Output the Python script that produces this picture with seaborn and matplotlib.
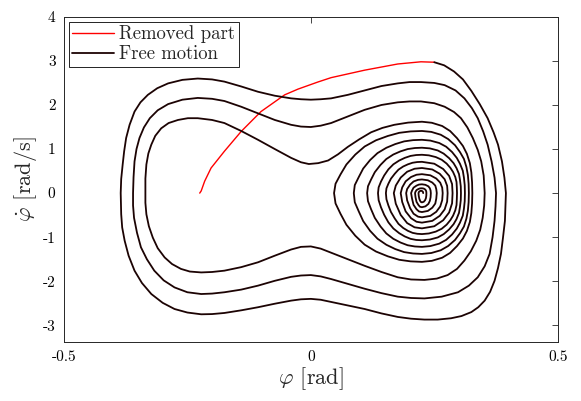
import matplotlib
matplotlib.use("Agg")
import matplotlib.pyplot as plt
import pandas as pd
import seaborn as sns

# ---------------- data ----------------
x_ticks = [-0.5, 0, 0.5]
x_tick_labels = ["-0.5", "0", "0.5"]
y_ticks = [-3, -2, -1, 0, 1, 2, 3, 4]
y_tick_labels = ["-3", "-2", "-1", "0", "1", "2", "3", "4"]
series_labels = ["Removed part", "Free motion"]

# removed part (red)
removed_pts = [
    (-0.225, 0.00), (-0.222, 0.05), (-0.215, 0.27), (-0.202, 0.57), (-0.175, 0.95),
    (-0.141, 1.40), (-0.101, 1.85), (-0.053, 2.23), (-0.026, 2.36), (0.014, 2.52),
    (0.041, 2.62), (0.109, 2.79), (0.176, 2.93), (0.223, 2.98), (0.250, 2.97),
]

# free motion: outer loops around both wells
outer_pts = [
    # loop 1
    (0.250, 2.97), (0.270, 2.90), (0.290, 2.76), (0.308, 2.58), (0.325, 2.32),
    (0.342, 2.02), (0.358, 1.70), (0.370, 1.38), (0.379, 1.10), (0.387, 0.72),
    (0.392, 0.35), (0.395, 0.00), (0.394, -0.35), (0.393, -0.63), (0.389, -1.02),
    (0.385, -1.38), (0.379, -1.70), (0.372, -1.99), (0.363, -2.24), (0.352, -2.44),
    (0.339, -2.59), (0.325, -2.70), (0.305, -2.79), (0.284, -2.84), (0.257, -2.87),
    (0.230, -2.87), (0.203, -2.85), (0.176, -2.81), (0.143, -2.73), (0.109, -2.63),
    (0.075, -2.55), (0.041, -2.47), (0.020, -2.42), (0.000, -2.40), (-0.020, -2.41),
    (-0.040, -2.44), (-0.073, -2.51), (-0.107, -2.59), (-0.141, -2.66), (-0.175, -2.72),
    (-0.200, -2.745), (-0.222, -2.75), (-0.250, -2.71), (-0.276, -2.63), (-0.300, -2.49),
    (-0.323, -2.29), (-0.342, -2.04), (-0.357, -1.76), (-0.369, -1.42), (-0.377, -1.08),
    (-0.382, -0.78), (-0.384, -0.48), (-0.385, 0.00), (-0.384, 0.32), (-0.381, 0.65),
    (-0.378, 0.95), (-0.374, 1.25), (-0.367, 1.55), (-0.357, 1.85), (-0.345, 2.06),
    (-0.330, 2.23), (-0.311, 2.38), (-0.289, 2.49), (-0.260, 2.57), (-0.229, 2.60),
    (-0.200, 2.58), (-0.175, 2.53), (-0.141, 2.42), (-0.107, 2.30), (-0.073, 2.21),
    (-0.040, 2.15), (-0.020, 2.13), (0.000, 2.12), (0.020, 2.13), (0.041, 2.15),
    (0.075, 2.23), (0.109, 2.33), (0.143, 2.43), (0.176, 2.49), (0.200, 2.52),
    (0.223, 2.52), (0.250, 2.50), (0.271, 2.45), (0.293, 2.33), (0.311, 2.15),
    (0.326, 1.93), (0.338, 1.70), (0.349, 1.40), (0.358, 1.10), (0.366, 0.72),
    (0.372, 0.35), (0.375, 0.00),
    # loop 2
    (0.374, -0.30), (0.372, -0.63), (0.368, -1.00), (0.362, -1.38), (0.352, -1.66),
    (0.338, -1.91), (0.320, -2.10), (0.298, -2.25), (0.265, -2.35), (0.230, -2.39),
    (0.203, -2.38), (0.176, -2.35), (0.143, -2.27), (0.109, -2.17), (0.075, -2.06),
    (0.041, -1.95), (0.020, -1.89), (0.000, -1.86), (-0.020, -1.87), (-0.040, -1.90),
    (-0.073, -1.99), (-0.107, -2.10), (-0.141, -2.19), (-0.175, -2.25), (-0.200, -2.28),
    (-0.222, -2.29), (-0.250, -2.25), (-0.276, -2.14), (-0.298, -1.98), (-0.317, -1.76),
    (-0.332, -1.50), (-0.344, -1.23), (-0.352, -0.90), (-0.358, -0.56), (-0.360, -0.28),
    (-0.360, 0.00), (-0.359, 0.36), (-0.357, 0.72), (-0.353, 1.00), (-0.347, 1.25),
    (-0.338, 1.49), (-0.326, 1.70), (-0.310, 1.88), (-0.289, 2.02), (-0.260, 2.12),
    (-0.229, 2.16), (-0.200, 2.14), (-0.175, 2.09), (-0.141, 1.96), (-0.107, 1.81),
    (-0.073, 1.66), (-0.040, 1.55), (-0.020, 1.51), (0.000, 1.50), (0.020, 1.53),
    (0.041, 1.59), (0.075, 1.74), (0.109, 1.89), (0.143, 2.00), (0.176, 2.06),
    (0.200, 2.08), (0.223, 2.08), (0.250, 2.04), (0.271, 1.96), (0.290, 1.84),
    (0.304, 1.70), (0.317, 1.49), (0.328, 1.25), (0.338, 0.98), (0.345, 0.72),
    (0.350, 0.40), (0.352, 0.00),
    # loop 3
    (0.351, -0.28), (0.348, -0.56), (0.343, -0.83), (0.335, -1.08), (0.324, -1.32),
    (0.311, -1.53), (0.296, -1.72), (0.277, -1.86), (0.255, -1.94), (0.230, -1.97),
    (0.203, -1.96), (0.176, -1.91), (0.143, -1.79), (0.109, -1.65), (0.075, -1.50),
    (0.041, -1.35), (0.020, -1.26), (0.000, -1.21), (-0.020, -1.22), (-0.040, -1.28),
    (-0.073, -1.42), (-0.107, -1.57), (-0.141, -1.68), (-0.175, -1.76), (-0.200, -1.79),
    (-0.222, -1.80), (-0.245, -1.78), (-0.263, -1.72), (-0.281, -1.61), (-0.296, -1.46),
    (-0.310, -1.25), (-0.320, -1.01), (-0.328, -0.75), (-0.333, -0.48), (-0.335, -0.22),
    (-0.335, 0.00), (-0.335, 0.33), (-0.333, 0.65), (-0.329, 0.90), (-0.323, 1.10),
    (-0.315, 1.30), (-0.303, 1.47), (-0.288, 1.59), (-0.269, 1.66), (-0.249, 1.70),
    (-0.229, 1.70), (-0.200, 1.66), (-0.175, 1.59), (-0.141, 1.41), (-0.107, 1.21),
    (-0.073, 1.00), (-0.040, 0.80), (-0.020, 0.70), (-0.004, 0.66), (0.015, 0.68),
    (0.035, 0.74), (0.055, 0.88), (0.075, 1.05), (0.098, 1.22), (0.122, 1.38),
    (0.145, 1.48), (0.169, 1.55), (0.197, 1.60), (0.225, 1.62),
]

# free motion: spiral into the right well
well_pts = [
    # k0
    (0.245, 1.596), (0.266, 1.523), (0.282, 1.409), (0.296, 1.247), (0.308, 1.069),
    (0.316, 0.891), (0.322, 0.680), (0.325, 0.470), (0.3265, 0.243), (0.327, 0.0),
    (0.3265, -0.234), (0.325, -0.452), (0.322, -0.655), (0.316, -0.858), (0.308, -1.030),
    (0.296, -1.201), (0.282, -1.357), (0.266, -1.466), (0.245, -1.537), (0.225, -1.56),
    (0.202, -1.549), (0.179, -1.513), (0.156, -1.435), (0.132, -1.326), (0.109, -1.170),
    (0.090, -0.967), (0.072, -0.718), (0.060, -0.468), (0.050, -0.234), (0.047, 0.0),
    (0.050, 0.212), (0.060, 0.423), (0.072, 0.649), (0.090, 0.874), (0.109, 1.058),
    (0.132, 1.199), (0.156, 1.297), (0.179, 1.368), (0.202, 1.400), (0.225, 1.41),
    # k1
    (0.244, 1.389), (0.263, 1.325), (0.278, 1.227), (0.292, 1.086), (0.302, 0.931),
    (0.310, 0.776), (0.315, 0.592), (0.318, 0.409), (0.3195, 0.212), (0.320, 0.0),
    (0.3195, -0.207), (0.318, -0.400), (0.315, -0.580), (0.310, -0.759), (0.302, -0.911),
    (0.292, -1.063), (0.278, -1.201), (0.263, -1.297), (0.244, -1.359), (0.225, -1.38),
    (0.207, -1.370), (0.189, -1.339), (0.171, -1.270), (0.153, -1.173), (0.135, -1.035),
    (0.120, -0.856), (0.106, -0.635), (0.097, -0.414), (0.089, -0.207), (0.087, 0.0),
    (0.089, 0.182), (0.097, 0.363), (0.106, 0.557), (0.120, 0.750), (0.135, 0.908),
    (0.153, 1.029), (0.171, 1.113), (0.189, 1.174), (0.207, 1.202), (0.225, 1.21),
    # k2
    (0.242, 1.192), (0.260, 1.137), (0.274, 1.053), (0.286, 0.932), (0.2955, 0.799),
    (0.302, 0.666), (0.3077, 0.508), (0.310, 0.351), (0.3116, 0.182), (0.312, 0.0),
    (0.3116, -0.183), (0.310, -0.354), (0.3077, -0.512), (0.302, -0.671), (0.2955, -0.805),
    (0.286, -0.939), (0.274, -1.061), (0.260, -1.147), (0.242, -1.202), (0.225, -1.22),
    (0.2106, -1.211), (0.196, -1.183), (0.1817, -1.122), (0.167, -1.037), (0.1528, -0.915),
    (0.141, -0.756), (0.1295, -0.561), (0.122, -0.366), (0.1157, -0.183), (0.114, 0.0),
    (0.1157, 0.155), (0.122, 0.309), (0.1295, 0.474), (0.141, 0.639), (0.1528, 0.773),
    (0.167, 0.876), (0.1817, 0.948), (0.196, 0.999), (0.2106, 1.023), (0.225, 1.03),
    # k3
    (0.241, 1.015), (0.257, 0.968), (0.269, 0.896), (0.280, 0.793), (0.289, 0.680),
    (0.295, 0.567), (0.300, 0.433), (0.302, 0.299), (0.3036, 0.155), (0.304, 0.0),
    (0.3036, -0.161), (0.302, -0.310), (0.300, -0.449), (0.295, -0.589), (0.289, -0.706),
    (0.280, -0.824), (0.269, -0.931), (0.257, -1.006), (0.241, -1.054), (0.225, -1.07),
    (0.2134, -1.063), (0.202, -1.038), (0.1903, -0.984), (0.179, -0.910), (0.1671, -0.803),
    (0.157, -0.663), (0.1485, -0.492), (0.142, -0.321), (0.1373, -0.161), (0.136, 0.0),
    (0.1373, 0.131), (0.142, 0.261), (0.1485, 0.400), (0.157, 0.539), (0.1671, 0.653),
    (0.179, 0.740), (0.1903, 0.800), (0.202, 0.844), (0.2134, 0.864), (0.225, 0.87),
    # k4
    (0.239, 0.857), (0.253, 0.818), (0.265, 0.757), (0.275, 0.670), (0.2825, 0.574),
    (0.288, 0.479), (0.2925, 0.365), (0.295, 0.252), (0.2956, 0.131), (0.296, 0.0),
    (0.2956, -0.140), (0.295, -0.270), (0.2925, -0.391), (0.288, -0.512), (0.2825, -0.614),
    (0.275, -0.716), (0.265, -0.809), (0.253, -0.874), (0.239, -0.916), (0.225, -0.93),
    (0.2155, -0.923), (0.206, -0.902), (0.1965, -0.856), (0.187, -0.791), (0.1775, -0.698),
    (0.170, -0.577), (0.1622, -0.428), (0.157, -0.279), (0.1531, -0.140), (0.152, 0.0),
    (0.1531, 0.107), (0.157, 0.213), (0.1622, 0.327), (0.170, 0.440), (0.1775, 0.533),
    (0.187, 0.604), (0.1965, 0.653), (0.206, 0.689), (0.2155, 0.705), (0.225, 0.71),
    # k5
    (0.250, 0.667), (0.268, 0.547), (0.280, 0.391), (0.286, 0.206), (0.287, 0.0),
    (0.286, -0.232), (0.280, -0.440), (0.268, -0.616), (0.250, -0.752), (0.225, -0.80),
    (0.210, -0.776), (0.195, -0.680), (0.182, -0.496), (0.172, -0.240), (0.168, 0.0),
    (0.172, 0.171), (0.182, 0.353), (0.195, 0.485), (0.210, 0.553), (0.225, 0.57),
    # k6
    (0.246, 0.536), (0.261, 0.439), (0.271, 0.314), (0.276, 0.165), (0.277, 0.0),
    (0.276, -0.194), (0.271, -0.369), (0.261, -0.516), (0.246, -0.630), (0.225, -0.67),
    (0.214, -0.650), (0.203, -0.570), (0.192, -0.415), (0.185, -0.201), (0.182, 0.0),
    (0.185, 0.129), (0.192, 0.267), (0.203, 0.366), (0.214, 0.417), (0.225, 0.43),
    # k7
    (0.242, 0.404), (0.254, 0.331), (0.262, 0.237), (0.266, 0.125), (0.267, 0.0),
    (0.266, -0.160), (0.262, -0.303), (0.254, -0.424), (0.242, -0.517), (0.225, -0.55),
    (0.217, -0.534), (0.208, -0.468), (0.201, -0.341), (0.195, -0.165), (0.193, 0.0),
    (0.195, 0.093), (0.201, 0.192), (0.208, 0.264), (0.217, 0.301), (0.225, 0.31),
    # k8
    (0.237, 0.291), (0.246, 0.239), (0.252, 0.171), (0.254, 0.090), (0.255, 0.0),
    (0.254, -0.125), (0.252, -0.237), (0.246, -0.331), (0.237, -0.404), (0.225, -0.43),
    (0.219, -0.417), (0.214, -0.366), (0.208, -0.267), (0.205, -0.129), (0.203, 0.0),
    (0.205, 0.060), (0.208, 0.124), (0.214, 0.170), (0.219, 0.194), (0.225, 0.20),
    # k9
    (0.232, 0.188), (0.238, 0.154), (0.241, 0.110), (0.2425, 0.058), (0.243, 0.0),
    (0.2425, -0.093), (0.241, -0.176), (0.238, -0.246), (0.232, -0.301), (0.225, -0.32),
    (0.221, -0.310), (0.218, -0.272), (0.214, -0.198), (0.212, -0.096), (0.211, 0.0),
    (0.212, 0.033), (0.214, 0.068), (0.218, 0.094), (0.221, 0.107), (0.225, 0.11),
    # k10 and end
    (0.2286, 0.103), (0.2313, 0.085), (0.2330, 0.061), (0.2338, 0.032), (0.234, 0.0),
    (0.2338, -0.061), (0.2330, -0.116), (0.2313, -0.162), (0.2286, -0.197), (0.225, -0.21),
    (0.2232, -0.204), (0.2214, -0.179), (0.2197, -0.130), (0.2185, -0.063), (0.218, 0.0),
    (0.2190, 0.030), (0.2215, 0.050), (0.2245, 0.052), (0.2270, 0.030), (0.2275, 0.0),
]

# ---------------- styling ----------------
sns.set_theme(style="white")
plt.rcParams.update({
    "font.family": "serif",
    "font.serif": ["cmr10", "DejaVu Serif"],
    "mathtext.fontset": "cm",
    "axes.unicode_minus": False,
    "axes.formatter.use_mathtext": True,
})

removed_df = pd.DataFrame(removed_pts, columns=["phi", "dphi"])
free_df = pd.DataFrame(outer_pts + well_pts, columns=["phi", "dphi"])

fig = plt.figure(figsize=(5.81, 4.01), dpi=100)
ax = fig.add_axes([0.110, 0.147, 0.850, 0.811])

sns.lineplot(data=removed_df, x="phi", y="dphi", sort=False, estimator=None,
             color="#ff0000", linewidth=1.0, label=series_labels[0], ax=ax)
sns.lineplot(data=free_df, x="phi", y="dphi", sort=False, estimator=None,
             color="#1c0303", linewidth=1.3, label=series_labels[1], ax=ax)

ax.set_xlim(-0.5, 0.5)
ax.set_ylim(-3.38, 4)
ax.set_xticks(x_ticks)
ax.set_xticklabels(x_tick_labels)
ax.set_yticks(y_ticks)
ax.set_yticklabels(y_tick_labels)

ax.tick_params(direction="in", top=True, right=True, length=4, width=0.6,
               labelsize=11, color="#262626", labelcolor="black", pad=6)
for s in ax.spines.values():
    s.set_color("#262626")
    s.set_linewidth(0.7)

ax.set_xlabel(r"$\varphi$ [rad]", fontsize=16, labelpad=1)
ax.set_ylabel(r"$\dot{\varphi}$ [rad/s]", fontsize=16, labelpad=3)

leg = ax.legend(loc="upper left", fontsize=13.5, frameon=True, fancybox=False,
                edgecolor="black", framealpha=1, handlelength=2.2,
                borderaxespad=0.25, borderpad=0.2, labelspacing=0.1,
                handletextpad=0.3)
leg.get_frame().set_linewidth(0.6)

fig.savefig("out.png", dpi=100)
